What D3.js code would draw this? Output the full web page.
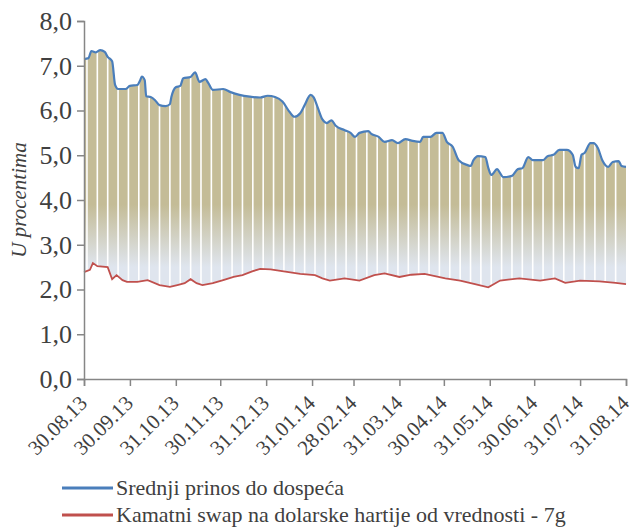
<!DOCTYPE html>
<html>
<head>
<meta charset="utf-8">
<script src="https://cdn.jsdelivr.net/npm/d3@7/dist/d3.min.js"></script>
<style>
  body { margin: 0; background: #fff; }
</style>
</head>
<body>
<script>
// Srednji prinos do dospeca (plava linija)
const prinosDatumi = ["2013-08-30","2013-09-02","2013-09-04","2013-09-07","2013-09-10","2013-09-13","2013-09-15","2013-09-18","2013-09-20","2013-09-22","2013-09-27","2013-09-30","2013-10-05","2013-10-07","2013-10-08","2013-10-10","2013-10-11","2013-10-14","2013-10-17","2013-10-20","2013-10-24","2013-10-27","2013-10-28","2013-10-31","2013-11-03","2013-11-05","2013-11-10","2013-11-13","2013-11-16","2013-11-20","2013-11-22","2013-11-25","2013-12-02","2013-12-07","2013-12-13","2013-12-20","2013-12-27","2014-01-01","2014-01-06","2014-01-11","2014-01-16","2014-01-19","2014-01-23","2014-01-26","2014-01-30","2014-02-01","2014-02-04","2014-02-07","2014-02-10","2014-02-13","2014-02-16","2014-02-22","2014-02-26","2014-03-01","2014-03-04","2014-03-10","2014-03-12","2014-03-17","2014-03-21","2014-03-26","2014-03-30","2014-04-04","2014-04-09","2014-04-14","2014-04-16","2014-04-21","2014-04-25","2014-04-29","2014-05-02","2014-05-06","2014-05-10","2014-05-16","2014-05-18","2014-05-20","2014-05-23","2014-05-28","2014-05-30","2014-06-01","2014-06-05","2014-06-07","2014-06-09","2014-06-15","2014-06-19","2014-06-22","2014-06-26","2014-06-29","2014-07-06","2014-07-09","2014-07-13","2014-07-17","2014-07-22","2014-07-26","2014-07-28","2014-07-30","2014-08-01","2014-08-03","2014-08-07","2014-08-09","2014-08-12","2014-08-15","2014-08-19","2014-08-22","2014-08-26","2014-08-28","2014-08-31"];
const prinosVrednosti = [7.15,7.17,7.33,7.30,7.35,7.31,7.20,7.10,6.57,6.48,6.48,6.55,6.57,6.68,6.76,6.68,6.32,6.30,6.23,6.12,6.10,6.14,6.30,6.52,6.55,6.72,6.75,6.85,6.64,6.70,6.61,6.46,6.48,6.41,6.35,6.31,6.29,6.33,6.30,6.20,5.96,5.86,5.94,6.12,6.35,6.30,6.05,5.80,5.72,5.78,5.66,5.56,5.50,5.41,5.50,5.54,5.48,5.41,5.30,5.34,5.27,5.36,5.32,5.30,5.41,5.41,5.50,5.50,5.30,5.19,4.89,4.78,4.76,4.89,4.98,4.96,4.72,4.56,4.69,4.60,4.51,4.54,4.69,4.71,4.96,4.89,4.89,4.98,5.01,5.12,5.12,5.01,4.74,4.71,5.01,5.05,5.27,5.27,5.16,4.89,4.74,4.85,4.87,4.76,4.74];

// Kamatni swap na dolarske hartije od vrednosti - 7g (crvena linija)
const swapDatumi = ["2013-08-30","2013-09-03","2013-09-05","2013-09-08","2013-09-15","2013-09-18","2013-09-21","2013-09-25","2013-09-28","2013-10-05","2013-10-12","2013-10-20","2013-10-27","2013-11-01","2013-11-06","2013-11-10","2013-11-14","2013-11-18","2013-11-25","2013-12-02","2013-12-09","2013-12-15","2013-12-22","2013-12-27","2014-01-03","2014-01-13","2014-01-23","2014-02-02","2014-02-07","2014-02-12","2014-02-22","2014-03-04","2014-03-14","2014-03-21","2014-03-31","2014-04-08","2014-04-17","2014-05-01","2014-05-11","2014-05-21","2014-05-30","2014-06-07","2014-06-20","2014-07-04","2014-07-14","2014-07-21","2014-07-31","2014-08-13","2014-08-24","2014-08-31"];
const swapVrednosti = [2.39,2.44,2.59,2.52,2.50,2.23,2.32,2.21,2.17,2.17,2.21,2.10,2.06,2.10,2.14,2.23,2.14,2.10,2.14,2.21,2.28,2.32,2.41,2.46,2.45,2.40,2.35,2.32,2.25,2.20,2.25,2.20,2.32,2.36,2.28,2.33,2.35,2.25,2.20,2.12,2.05,2.20,2.25,2.20,2.25,2.15,2.20,2.18,2.15,2.12];

const tickDatumi = ["2013-08-30","2013-09-30","2013-10-31","2013-11-30","2013-12-31","2014-01-31","2014-02-28","2014-03-31","2014-04-30","2014-05-31","2014-06-30","2014-07-31","2014-08-31"];
const yTicks = [0, 1, 2, 3, 4, 5, 6, 7, 8];

const nazivPrinos = "Srednji prinos do dospeća";
const nazivSwap = "Kamatni swap na dolarske hartije od vrednosti - 7g";

const FONT = "'Liberation Serif', Tinos, serif";

const parse = d3.timeParse("%Y-%m-%d");
const fmtTick = d3.timeFormat("%d.%m.%y");
const fmtY = v => d3.format(".1f")(v).replace(".", ",");

const width = 633, height = 527;
const margin = { left: 84, right: 7, top: 21, bottom: 148 };

const svg = d3.select("body").append("svg")
    .attr("width", width)
    .attr("height", height);

const x = d3.scaleTime()
    .domain([parse(tickDatumi[0]), parse(tickDatumi[tickDatumi.length - 1])])
    .range([margin.left, width - margin.right]);
const y = d3.scaleLinear()
    .domain([0, 8])
    .range([height - margin.bottom, margin.top]);

const prinos = prinosDatumi.map((d, i) => ({ date: parse(d), v: prinosVrednosti[i] }));
const swap = swapDatumi.map((d, i) => ({ date: parse(d), v: swapVrednosti[i] }));

// gradijent
const defs = svg.append("defs");
const grad = defs.append("linearGradient")
    .attr("id", "fillGrad")
    .attr("gradientUnits", "userSpaceOnUse")
    .attr("x1", 0).attr("x2", 0)
    .attr("y1", y(3.9)).attr("y2", y(2.5));
grad.append("stop").attr("offset", 0).attr("stop-color", "#c4bc97");
grad.append("stop").attr("offset", 1).attr("stop-color", "#dfe5ee");

const lineP = d3.line().x(d => x(d.date)).y(d => y(d.v)).curve(d3.curveMonotoneX);
const lineS = d3.line().x(d => x(d.date)).y(d => y(d.v));

// povrsina izmedju dve linije
const areaPath = lineP(prinos) + "L" + lineS(swap.slice().reverse()).slice(1) + "Z";
svg.append("path")
    .attr("d", areaPath)
    .attr("fill", "url(#fillGrad)");

// nedeljni razmaci izmedju stubica
const nedelje = d3.timeWeek.range(x.domain()[0], x.domain()[1]);
svg.selectAll(".gap")
    .data(nedelje)
    .enter().append("line")
    .attr("class", "gap")
    .attr("x1", d => x(d)).attr("x2", d => x(d))
    .attr("y1", y(8)).attr("y2", y(1.8))
    .attr("stroke", "#fff")
    .attr("stroke-width", 1.6);

// linije
svg.append("path")
    .attr("d", lineS(swap))
    .attr("fill", "none")
    .attr("stroke", "#c0504d")
    .attr("stroke-width", 1.8);
svg.append("path")
    .attr("d", lineP(prinos))
    .attr("fill", "none")
    .attr("stroke", "#4a7ebb")
    .attr("stroke-width", 2.2);

// ose
const yAxis = svg.append("g")
    .attr("transform", "translate(" + margin.left + ",0)")
    .call(d3.axisLeft(y).tickValues(yTicks).tickFormat(fmtY).tickSize(7).tickPadding(5));
const xAxis = svg.append("g")
    .attr("transform", "translate(0," + y(0) + ")")
    .call(d3.axisBottom(x).tickValues(tickDatumi.map(parse)).tickFormat("").tickSize(7));

[yAxis, xAxis].forEach(g => {
    g.attr("font-family", null).attr("font-size", null);
    g.selectAll("path, line").attr("stroke", "#868686").attr("stroke-width", 1.5);
});
yAxis.selectAll("text")
    .style("font-family", FONT)
    .style("font-size", "26px")
    .attr("fill", "#404040");

// rotirane oznake datuma
svg.append("g").selectAll("text")
    .data(tickDatumi)
    .enter().append("text")
    .attr("transform", d => "translate(" + (x(parse(d)) - 6) + "," + (y(0) + 15) + ") rotate(-45)")
    .attr("text-anchor", "end")
    .attr("dy", "0.7em")
    .style("font-family", FONT)
    .style("font-size", "21px")
    .attr("fill", "#404040")
    .text(d => fmtTick(parse(d)));

// naziv y ose
svg.append("text")
    .attr("transform", "translate(26,200) rotate(-90)")
    .attr("text-anchor", "middle")
    .style("font-family", FONT)
    .style("font-size", "21px")
    .style("font-style", "italic")
    .attr("fill", "#404040")
    .text("U procentima");

// legenda
const legenda = [
    { naziv: nazivPrinos, boja: "#4a7ebb", y: 488 },
    { naziv: nazivSwap, boja: "#c0504d", y: 515 }
];
const lg = svg.append("g").selectAll("g").data(legenda).enter().append("g");
lg.append("line")
    .attr("x1", 62).attr("x2", 113)
    .attr("y1", d => d.y).attr("y2", d => d.y)
    .attr("stroke", d => d.boja)
    .attr("stroke-width", 3);
lg.append("text")
    .attr("x", 116)
    .attr("y", d => d.y + 7)
    .style("font-family", FONT)
    .style("font-size", "22px")
    .attr("fill", "#404040")
    .text(d => d.naziv);
</script>
</body>
</html>
